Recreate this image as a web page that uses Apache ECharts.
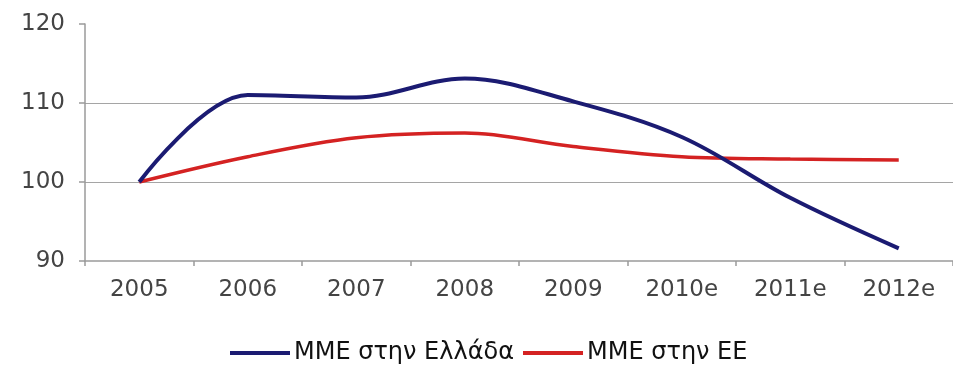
<!DOCTYPE html>
<html>
<head>
<meta charset="utf-8">
<script src="https://cdn.jsdelivr.net/npm/echarts@6/dist/echarts.min.js"></script>
<style>
  html, body { margin: 0; padding: 0; background: #fff; }
  #chart { width: 953px; height: 372px; }
</style>
</head>
<body>
<div id="chart"></div>
<script>
// Index of SME activity, 2005 = 100
const years = ['2005', '2006', '2007', '2008', '2009', '2010e', '2011e', '2012e'];
const greece = [100, 111.0, 110.7, 113.1, 110.2, 105.7, 98.0, 91.6];
const eu = [100, 103.2, 105.6, 106.2, 104.5, 103.2, 102.9, 102.8];
const seriesNames = ['ΜΜΕ στην Ελλάδα', 'ΜΜΕ στην ΕΕ'];
const yTicks = { min: 90, max: 120, step: 10 };

const FONT = '"DejaVu Sans", sans-serif';
const chart = echarts.init(document.getElementById('chart'), null, { renderer: 'canvas' });

chart.setOption({
  animation: false,
  backgroundColor: '#ffffff',
  grid: { left: 85, top: 24, width: 872, height: 237, containLabel: false },
  legend: {
    bottom: 2,
    left: 225,
    icon: 'rect',
    itemWidth: 60,
    itemHeight: 4,
    itemGap: 9,
    textStyle: { fontFamily: FONT, fontSize: 24, color: '#111111', padding: [0, 0, 0, -1] },
    data: seriesNames
  },
  xAxis: {
    type: 'category',
    data: years,
    boundaryGap: true,
    axisLine: { show: true, lineStyle: { color: '#9a9a9a', width: 1.5 } },
    axisTick: { show: true, length: 5, lineStyle: { color: '#9a9a9a', width: 1.5 } },
    axisLabel: { fontFamily: FONT, fontSize: 23, color: '#444444', margin: 18 },
    splitLine: { show: false }
  },
  yAxis: {
    type: 'value',
    min: yTicks.min,
    max: yTicks.max,
    interval: yTicks.step,
    axisLine: { show: true, lineStyle: { color: '#9a9a9a', width: 1.5 } },
    axisTick: { show: true, length: 6, lineStyle: { color: '#9a9a9a', width: 1.5 } },
    axisLabel: { fontFamily: FONT, fontSize: 23, color: '#444444', margin: 20 },
    splitLine: {
      show: true,
      lineStyle: { color: ['rgba(0,0,0,0)', '#a5a5a5', '#a5a5a5', 'rgba(0,0,0,0)'], width: 1.2 }
    }
  },
  series: [
    {
      name: seriesNames[0],
      type: 'line',
      data: greece,
      smooth: 0.35,
      symbol: 'none',
      lineStyle: { color: '#1b1b72', width: 4 },
      itemStyle: { color: '#1b1b72' },
      z: 3
    },
    {
      name: seriesNames[1],
      type: 'line',
      data: eu,
      smooth: 0.35,
      symbol: 'none',
      lineStyle: { color: '#d42222', width: 3.5 },
      itemStyle: { color: '#d42222' },
      z: 2
    }
  ]
});
</script>
</body>
</html>
